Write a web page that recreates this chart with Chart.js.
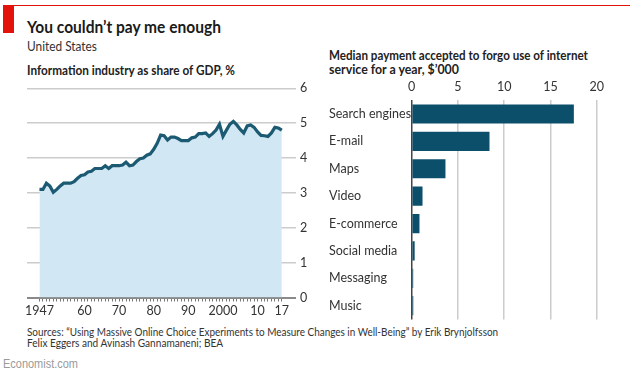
<!DOCTYPE html>
<html>
<head>
<meta charset="utf-8">
<script src="https://cdn.jsdelivr.net/npm/chart.js@4.4.1/dist/chart.umd.min.js"></script>
<style>
  body { margin: 0; width: 630px; height: 375px; background: #fff; position: relative; overflow: hidden; font-family: Lato, "Noto Sans", sans-serif; color: #1a1a1a; }
  .abs { position: absolute; white-space: nowrap; transform-origin: 0 50%; }
  #redline { position: absolute; left: 3px; top: 5px; width: 627px; height: 1px; background: #e3120b; }
  #redbox { position: absolute; left: 3px; top: 5px; width: 11px; height: 28px; background: #e3120b; }
  #title { left: 27px; top: 17px; font-size: 17px; font-weight: 700; line-height: 20px; }
  #sub { left: 27px; top: 39px; font-size: 12.5px; line-height: 16px; color: #333; }
  #lhead { left: 27px; top: 62px; font-size: 13px; font-weight: 700; line-height: 16px; color: #222; }
  .rhead { left: 329px; font-size: 13px; font-weight: 700; line-height: 16px; color: #222; }
  .src { left: 27px; font-size: 11.5px; line-height: 14px; color: #333; }
  #brand { left: 3px; top: 357px; font-family: "Liberation Sans", Arial, sans-serif; font-size: 12px; line-height: 14px; color: #9a9a9a; }
  canvas { position: absolute; }
</style>
</head>
<body>
<div id="redline"></div>
<div id="redbox"></div>
<div class="abs" id="title" data-w="194">You couldn’t pay me enough</div>
<div class="abs" id="sub" data-w="70">United States</div>
<div class="abs" id="lhead" data-w="208">Information industry as share of GDP, %</div>
<div class="abs rhead" style="top:47px" data-w="259">Median payment accepted to forgo use of internet</div>
<div class="abs rhead" style="top:61px" data-w="130">service for a year, $’000</div>
<div class="abs src" style="top:325px" data-w="471">Sources: “Using Massive Online Choice Experiments to Measure Changes in Well-Being” by Erik Brynjolfsson</div>
<div class="abs src" style="top:336px" data-w="196">Felix Eggers and Avinash Gannamaneni; BEA</div>
<div class="abs" id="brand" data-w="75">Economist.com</div>

<div style="position:absolute;left:0;top:78px;width:320px;height:245px"><canvas id="lineChart"></canvas></div>
<div style="position:absolute;left:310px;top:78px;width:320px;height:245px"><canvas id="barChart"></canvas></div>

<script>
// Information industry share of GDP, %, annual
const years = [];
for (let y = 1947; y <= 2017; y++) years.push(y);
const gdpShare = [
  3.10, 3.10, 3.28, 3.20, 3.02, 3.10, 3.20, 3.28, 3.28, 3.28,   // 1947-56
  3.32, 3.42, 3.50, 3.52, 3.60, 3.62, 3.70, 3.70, 3.70, 3.78,   // 1957-66
  3.70, 3.78, 3.78, 3.78, 3.80, 3.88, 3.78, 3.80, 3.90, 3.98,   // 1967-76
  4.00, 4.08, 4.12, 4.25, 4.42, 4.66, 4.64, 4.52, 4.60, 4.60,   // 1977-86
  4.56, 4.50, 4.50, 4.50, 4.58, 4.60, 4.70, 4.70, 4.72, 4.62,   // 1987-96
  4.70, 4.80, 4.97, 4.62, 4.80, 4.97, 5.05, 4.95, 4.82, 4.72,   // 1997-2006
  4.92, 4.95, 4.88, 4.75, 4.65, 4.64, 4.62, 4.72, 4.88, 4.86,   // 2007-16
  4.80                                                          // 2017
];
const yearLabels = { 1947: '1947', 1960: '60', 1970: '70', 1980: '80', 1990: '90', 2000: '2000', 2010: '10', 2017: '17' };
const shareTicks = [0, 1, 2, 3, 4, 5, 6];

// Median payment to forgo a service for a year, $'000
const services = ['Search engines', 'E-mail', 'Maps', 'Video', 'E-commerce', 'Social media', 'Messaging', 'Music'];
const payment = [17.53, 8.41, 3.65, 1.17, 0.84, 0.32, 0.16, 0.17];
const paymentTicks = [0, 5, 10, 15, 20];

Chart.defaults.font.family = 'Lato, "Noto Sans", sans-serif';
Chart.defaults.color = '#333';
Chart.defaults.animation = false;

new Chart(document.getElementById('lineChart'), {
  type: 'line',
  data: {
    datasets: [{
      data: years.map((y, i) => ({ x: y, y: gdpShare[i] })),
      borderColor: '#1b5a72',
      borderWidth: 3.2,
      backgroundColor: '#d1e7f3',
      fill: 'origin',
      pointRadius: 0,
      tension: 0
    }]
  },
  options: {
    responsive: true,
    maintainAspectRatio: false,
    layout: { padding: { left: 27, top: 10.3, right: 0, bottom: 0 } },
    plugins: { legend: { display: false }, tooltip: { enabled: false } },
    scales: {
      x: {
        type: 'linear',
        min: 1943.4,
        max: 2021.1,
        afterBuildTicks: s => { s.ticks = years.map(v => ({ value: v })); },
        afterFit: s => { s.height = 25.5; s.paddingLeft = 0; s.paddingRight = 0; },
        border: { display: false },
        grid: { drawOnChartArea: false, drawTicks: true, tickLength: 4, color: '#777', lineWidth: 1 },
        ticks: {
          autoSkip: false, maxRotation: 0, padding: 2,
          font: { size: 12.5 }, color: '#333',
          callback: v => yearLabels[v] || ''
        }
      },
      y: {
        position: 'right',
        min: 0,
        max: 6,
        afterBuildTicks: s => { s.ticks = shareTicks.map(v => ({ value: v })); },
        afterFit: s => { s.width = 24; s.paddingTop = 0; s.paddingBottom = 0; },
        border: { display: false },
        grid: {
          drawTicks: false,
          color: c => c.tick && c.tick.value === 0 ? '#8a8a8a' : '#cccccc',
          lineWidth: c => c.tick && c.tick.value === 0 ? 2 : 1.5
        },
        ticks: { padding: 4, font: { size: 12.5 }, color: '#333' }
      }
    }
  }
});

new Chart(document.getElementById('barChart'), {
  type: 'bar',
  data: {
    labels: services,
    datasets: [{
      data: payment,
      backgroundColor: '#0c4f6b',
      barPercentage: 0.7,
      categoryPercentage: 1
    }]
  },
  options: {
    indexAxis: 'y',
    responsive: true,
    maintainAspectRatio: false,
    layout: { padding: { left: 19, top: 0, right: 33.3, bottom: 3.6 } },
    plugins: { legend: { display: false }, tooltip: { enabled: false } },
    scales: {
      x: {
        position: 'top',
        min: 0,
        max: 20,
        afterBuildTicks: s => { s.ticks = paymentTicks.map(v => ({ value: v })); },
        afterFit: s => { s.height = 22.3; s.paddingLeft = 0; s.paddingRight = 0; },
        border: { display: false },
        grid: {
          drawTicks: false,
          color: c => c.tick && c.tick.value === 0 ? '#444' : '#cccccc',
          lineWidth: 1.5
        },
        ticks: { padding: 6, font: { size: 12.5 }, color: '#333' }
      },
      y: {
        afterFit: s => { s.width = 82.7; s.paddingTop = 0; s.paddingBottom = 0; },
        border: { display: false },
        grid: { display: false, drawTicks: false },
        ticks: { crossAlign: 'far', font: { size: 12.5 }, color: '#333' }
      }
    }
  }
});

// squeeze the narrow Economist-style text blocks to their measured widths
document.querySelectorAll('[data-w]').forEach(el => {
  const w = el.getBoundingClientRect().width;
  const target = parseFloat(el.dataset.w);
  el.style.transform = 'scaleX(' + (target / w).toFixed(3) + ')';
});
</script>
</body>
</html>
